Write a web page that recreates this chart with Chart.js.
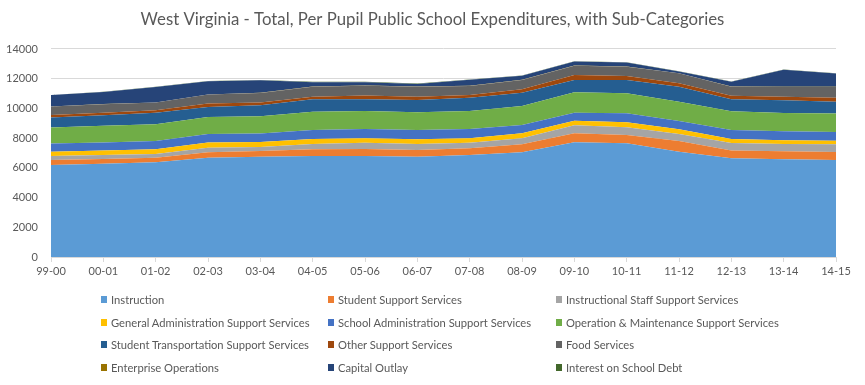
<!DOCTYPE html>
<html>
<head>
<meta charset="utf-8">
<script src="https://cdn.jsdelivr.net/npm/chart.js@4"></script>
<style>
  body { margin: 0; background: #fff; }
  #wrap { position: relative; width: 865px; height: 385px; }
  #legend {
    position: absolute; left: 101px; top: 288px;
    display: grid; grid-template-columns: 227px 228px 240px;
    grid-auto-rows: 22.7px;
    font-family: Lato, "Open Sans", sans-serif; font-size: 11.2px; color: #595959;
  }
  #legend div { display: flex; align-items: center; white-space: nowrap; }
  #legend span.box { width: 6px; height: 7px; margin-right: 4px; display: inline-block; }
</style>
</head>
<body>
<div id="wrap">
  <canvas id="grafico" width="865" height="385"></canvas>
  <div id="legend"></div>
</div>
<script>
const anos = ["99-00", "00-01", "01-02", "02-03", "03-04", "04-05", "05-06", "06-07",
  "07-08", "08-09", "09-10", "10-11", "11-12", "12-13", "13-14", "14-15"];

const instruction = [6190, 6280, 6370, 6685, 6750, 6800, 6800, 6750, 6865, 7050, 7720, 7650, 7090, 6640, 6575, 6530];
const studentSupport = [340, 315, 315, 360, 380, 450, 470, 450, 450, 535, 600, 560, 715, 530, 540, 540];
const instrStaff = [270, 270, 245, 315, 270, 355, 420, 405, 375, 405, 540, 520, 475, 500, 490, 515];
const genAdmin = [290, 300, 320, 340, 340, 335, 300, 315, 300, 330, 315, 335, 310, 270, 250, 235];
const schoolAdmin = [540, 540, 560, 580, 565, 610, 625, 630, 625, 560, 540, 605, 560, 600, 605, 595];
const operation = [1080, 1120, 1120, 1145, 1165, 1230, 1210, 1185, 1210, 1280, 1365, 1345, 1300, 1270, 1235, 1235];
const transport = [670, 720, 775, 670, 740, 835, 790, 835, 895, 900, 830, 895, 1010, 810, 850, 800];
const otherSupport = [180, 155, 165, 230, 180, 175, 245, 220, 180, 225, 340, 270, 230, 225, 245, 265];
const food = [560, 585, 520, 605, 650, 670, 670, 670, 610, 625, 625, 630, 670, 615, 650, 725];
const enterprise = [10, 10, 10, 10, 10, 10, 10, 10, 10, 10, 10, 10, 10, 10, 10, 10];
const capital = [770, 815, 1040, 890, 840, 290, 220, 180, 400, 280, 270, 270, 110, 320, 1145, 900];
const interest = [10, 10, 10, 10, 20, 40, 40, 30, 20, 20, 20, 20, 20, 20, 20, 20];

const yTicks = [0, 2000, 4000, 6000, 8000, 10000, 12000, 14000];

const series = [
  ["Instruction", instruction, "#5B9BD5"],
  ["Student Support Services", studentSupport, "#ED7D31"],
  ["Instructional Staff Support Services", instrStaff, "#A5A5A5"],
  ["General Administration Support Services", genAdmin, "#FFC000"],
  ["School Administration Support Services", schoolAdmin, "#4472C4"],
  ["Operation & Maintenance Support Services", operation, "#70AD47"],
  ["Student Transportation Support Services", transport, "#255E91"],
  ["Other Support Services", otherSupport, "#9E480E"],
  ["Food Services", food, "#636363"],
  ["Enterprise Operations", enterprise, "#997300"],
  ["Capital Outlay", capital, "#264478"],
  ["Interest on School Debt", interest, "#43682B"],
];

const fonte = "Lato, 'Open Sans', sans-serif";

const grafico = new Chart(document.getElementById("grafico"), {
  type: "line",
  data: {
    labels: anos,
    datasets: series.map(([nome, valores, cor], i) => ({
      label: nome,
      data: valores,
      backgroundColor: cor,
      borderColor: cor,
      borderWidth: 0,
      pointRadius: 0,
      tension: 0,
      fill: i === 0 ? "origin" : "-1",
    })),
  },
  options: {
    responsive: false,
    animation: false,
    devicePixelRatio: 1,
    layout: { padding: { left: 0, right: 0, bottom: 108 } },
    plugins: {
      legend: { display: false },
      tooltip: { enabled: false },
      title: {
        display: true,
        text: "West Virginia - Total, Per Pupil Public School Expenditures, with Sub-Categories",
        color: "#595959",
        font: { family: fonte, size: 16.8, weight: "normal" },
        padding: { top: 10, bottom: 18.8 },
      },
    },
    scales: {
      x: {
        offset: false,
        grid: { drawOnChartArea: false, drawTicks: true, tickLength: 5, color: "#d9d9d9" },
        border: { color: "#d9d9d9" },
        ticks: { color: "#595959", font: { family: fonte, size: 11 }, padding: 3, maxRotation: 0, autoSkip: false },
        afterFit: (scale) => { scale.height = 20; },
      },
      y: {
        stacked: true,
        min: 0,
        max: 14000,
        afterBuildTicks: (scale) => { scale.ticks = yTicks.map((v) => ({ value: v })); },
        grid: { color: "#d9d9d9", drawTicks: false },
        border: { display: false },
        ticks: {
          color: "#595959",
          font: { family: fonte, size: 11 },
          padding: 13,
          callback: (v) => String(v),
        },
        afterFit: (scale) => { scale.width = 51; },
      },
      // empty right margin so the title centres on the whole picture
      margem: {
        position: "right",
        grid: { display: false },
        border: { display: false },
        ticks: { display: false },
        afterFit: (scale) => { scale.width = 29; },
      },
    },
  },
});

const legenda = document.getElementById("legend");
grafico.data.datasets.forEach((ds) => {
  const item = document.createElement("div");
  item.innerHTML = '<span class="box" style="background:' + ds.backgroundColor + '"></span>' + ds.label.replace("&", "&amp;");
  legenda.appendChild(item);
});
</script>
</body>
</html>
